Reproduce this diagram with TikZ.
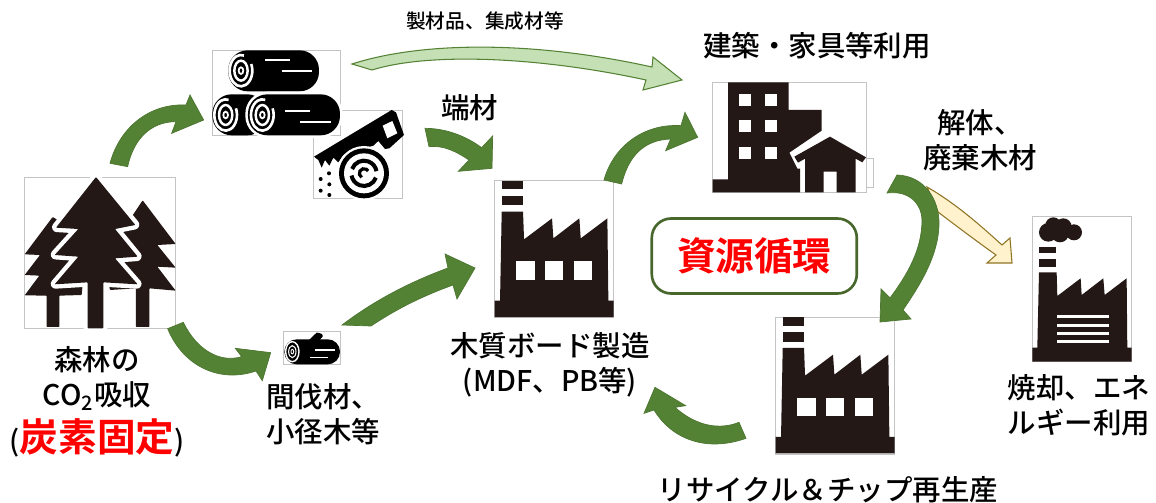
\documentclass[tikz,border=0pt]{standalone}
\usepackage{fontspec}
\setmainfont{Noto Sans CJK JP Medium}[BoldFont={Noto Sans CJK JP Bold}]
\tikzset{
  x=0.02cm,y=-0.02cm,
  crop/.style 2 args={shift={(#1,#2)},x=0.006667cm,y=-0.006667cm},
  iconbox/.style 2 args={draw=framegray,line width=.5pt,fill=white,inner sep=0pt,minimum width=#1*0.02cm,minimum height=#2*0.02cm},
  label/.style={font=\fontsize{16.2}{20}\selectfont,align=center,inner sep=0pt,text=black},
  greenarrow/.style={fill=arrowgreen,draw=arrowedge,line width=.4pt,line join=miter},
  palearrow/.style={fill=palegreen,draw=arrowgreen,line width=.6pt},
  creamarrow/.style={fill=cream,draw=creamedge,line width=.6pt},
  factory/.pic={
    \begin{scope}[x=0.006667cm,y=-0.006667cm]
    \fill[ink] (22,0) rectangle (84,26);
    \fill[ink] (21,45) rectangle (85,74);
    \fill[ink] (21,93) -- (85,93) -- (88,176) -- (172,113) -- (176,173) -- (254,113) -- (258,173) -- (338,113)
      -- (341,360) -- (357,360) -- (357,409) -- (0,409) -- (0,360) -- (16,360) -- cycle;
    \foreach \wx in {65,151,237}
      \fill[white] (\wx,242) rectangle ++(55,55);
    \end{scope}
  },
}
\definecolor{ink}{HTML}{231815}
\definecolor{framegray}{HTML}{C4C4C4}
\definecolor{arrowgreen}{HTML}{548235}
\definecolor{arrowedge}{HTML}{4C7530}
\definecolor{palegreen}{HTML}{C5E0B4}
\definecolor{cream}{HTML}{FFF2CC}
\definecolor{creamedge}{HTML}{8F7423}
\definecolor{boxgreen}{HTML}{47672C}
\begin{document}
\begin{tikzpicture}
\useasboundingbox (0,0) rectangle (1156,503);
% icon frames
\node[iconbox={151.4}{151}] (forest) at (100,252.5) {};
\node[iconbox={89.4}{88}] (saw) at (358,154.3) {};
\node[iconbox={127.7}{85}] (logs) at (276.2,92.8) {};
\node[iconbox={56.6}{33}] (thinning) at (312,347.8) {};
\node[iconbox={119}{136.3}] (board) at (554.2,248.9) {};
\draw[framegray,line width=.5pt] (866.3,158.3) -- (873.7,158.3) -- (873.7,187.3) -- (866.3,187.3);
\node[iconbox={153.6}{110}] (building) at (789.5,137.3) {};
\node[iconbox={119}{137.7}] (recycle) at (835.2,385.9) {};
\node[iconbox={99.4}{145.4}] (burner) at (1082,289) {};
% trees
\begin{scope}[crop={20}{175},rounded corners=.4pt]
\fill[ink] (98,126) -- (14,238) -- (60,240) -- (14,300) -- (58,302) -- (14,361) -- (80,362) -- (80,456)
  -- (118,456) -- (118,362) -- (185,360) -- (200,200) -- (108,132) -- cycle;
\fill[ink] (368,76) -- (467,207) -- (412,210) -- (467,278) -- (412,275) -- (467,347) -- (388,340) -- (388,456)
  -- (348,456) -- (348,340) -- (270,345) -- (240,200) -- (336,124) -- cycle;
\fill[ink,preaction={draw=white,line width=5pt,line join=round}]
  (228,6) -- (346,150) -- (285,162) -- (353,245) -- (285,250) -- (353,328) -- (250,322) -- (250,460) -- (203,460)
  -- (203,322) -- (104,328) -- (175,245) -- (104,240) -- (175,162) -- (108,158) -- cycle;
\end{scope}
% saw
\begin{scope}[crop={310}{105}]
\fill[black] (12,155) -- (245,15) -- (258,22) -- (282,90) -- (238,130) -- (225,132) -- (205,108) -- (190,122) -- (100,150)
  -- (85,172) -- (70,158) -- (58,182) -- (45,165) -- (35,188) -- (25,165) -- cycle;
\fill[white] (218,62) -- (247,48) -- (262,85) -- (232,100) -- cycle;
\fill[white] (162,205) circle[radius=82];
\fill[black] (162,205) circle[radius=75];
\fill[white] (162,205) circle[radius=60];
\draw[black,line width=2.3pt] (162,205) ++(20:38) arc[start angle=20,end angle=170,radius=38];
\draw[black,line width=2.3pt] (162,205) ++(200:38) arc[start angle=200,end angle=350,radius=38];
\draw[black,line width=1.8pt] (162,205) ++(120:14) arc[start angle=120,end angle=330,radius=14];
\foreach \dx/\dy in {57/205,32/222,58/238,32/257,58/270}
  \fill[black] (\dx,\dy) circle[radius=6];
\end{scope}
% logs
\begin{scope}[crop={0}{0}]
\fill[black,rounded corners=11pt] (685,151) rectangle (957,274);
\fill[black,rounded corners=11pt] (637,283) rectangle (800,406);
\fill[black,rounded corners=11pt,preaction={draw=white,line width=3pt}] (744,283) rectangle (1020,406);
\foreach \lx/\ly in {723/212,677/345,787/345} {
  \draw[white,line width=1.5pt] (\lx,\ly) ++(-25:34 and 47) arc[start angle=-25,end angle=285,x radius=34,y radius=47];
  \draw[white,line width=1.4pt] (\lx,\ly) ellipse[x radius=20,y radius=30];
  \draw[white,line width=1pt] (\lx,\ly) ellipse[x radius=7,y radius=10];
}
\draw[white,line width=1.3pt] (795,180) -- (870,180);
\draw[white,line width=1.3pt] (845,212) -- (935,212);
\draw[white,line width=1.3pt] (855,332) -- (930,332);
\draw[white,line width=1.3pt] (900,367) -- (992,367);
\end{scope}
% small log
\begin{scope}[crop={0}{170}]
\fill[black] (925,512) -- (950,488) to[out=0,in=60] (968,500) -- (950,520) -- cycle;
\fill[black,rounded corners=7pt] (853,508) rectangle (1020,583);
\draw[white,line width=.8pt] (877,545) ellipse[x radius=20,y radius=30];
\draw[white,line width=.6pt] (877,545) ellipse[x radius=11,y radius=18];
\draw[white,line width=.5pt] (877,545) ellipse[x radius=4,y radius=7];
\draw[white,line width=.8pt] (945,540) -- (1005,540);
\draw[white,line width=.8pt] (930,563) -- (985,563);
\end{scope}
% building and house
\begin{scope}[crop={690}{60}]
\fill[ink] (114,67) -- (296,67) -- (296,150) -- (395,150) -- (395,212) -- (298,278) -- (322,326) -- (330,326) -- (330,397)
  -- (68,397) -- (68,358) -- (114,358) -- cycle;
\foreach \wy in {103,181,260} {
  \fill[white] (148,\wy) rectangle ++(36,36);
  \fill[white] (225,\wy) rectangle ++(36,36);
}
\fill[ink] (420,230) -- (528,292) -- (517,307) -- (497,296) -- (497,397) -- (440,397) -- (440,335) -- (401,335) -- (401,397)
  -- (345,397) -- (345,296) -- (324,308) -- (313,290) -- cycle;
\end{scope}
% factories
\pic at (494.7,180.7) {factory};
\pic at (775.7,317) {factory};
\begin{scope}[crop={640}{200}]
\foreach \sx/\sy/\sr in {1225/97/28,1240/76/24,1270/80/25,1260/100/27,1302/97/24}
  \fill[ink] (\sx,\sy) circle[radius=\sr];
\fill[ink] (1197,140) rectangle (1247,160);
\fill[ink] (1197,176) rectangle (1249,202);
\fill[ink] (1197,217) -- (1250,217) -- (1252,288) -- (1322,235) -- (1325,285) -- (1390,235) -- (1394,285) -- (1460,235)
  -- (1462,443) -- (1475,443) -- (1475,485) -- (1177,485) -- (1177,443) -- (1192,443) -- cycle;
\foreach \ly in {350,376,402,426}
  \fill[white] (1252,\ly-4.5) rectangle (1408,\ly+4.5);
\end{scope}
% arrows
\fill[palearrow] (352,64) .. controls (420,42) and (530,40) .. (652,67) -- (653,57) -- (682,80) -- (643,90) -- (646,80)
  .. controls (540,57) and (430,52) .. (372,70) -- cycle;
\fill[creamarrow] (927,187) .. controls (955,203) and (980,225) .. (1002,245) -- (1010,238) -- (1012,263) -- (987,263) -- (996,255)
  .. controls (975,240) and (955,225) .. (938,212) -- cycle;
\begin{scope}[crop={0}{0}]
\fill[greenarrow] (330,490) .. controls (360,380) and (450,310) .. (558,315) -- (570,285) -- (611,360) -- (515,400) -- (528,365)
  .. controls (450,365) and (400,420) .. (383,500) -- cycle;
\end{scope}
\begin{scope}[crop={0}{170}]
\fill[greenarrow] (550,457) .. controls (590,540) and (660,580) .. (725,560) -- (706,535) -- (812,548) -- (787,632) -- (768,603)
  .. controls (660,640) and (550,590) .. (503,476) -- cycle;
\end{scope}
\begin{scope}[crop={400}{0}]
\fill[greenarrow] (75,385) .. controls (140,385) and (200,410) .. (245,443) -- (278,408) -- (276,505) -- (175,514) -- (207,480)
  .. controls (170,455) and (130,435) .. (87,440) -- cycle;
\fill[greenarrow] (612,540) .. controls (640,440) and (730,370) .. (843,377) -- (855,337) -- (893,412) -- (797,452) -- (812,417)
  .. controls (730,420) and (685,470) .. (665,552) -- cycle;
\end{scope}
\fill[greenarrow] (342,325) .. controls (375,300) and (410,282) .. (448,268) -- (445,254) -- (475,268) -- (457,299) -- (453,285)
  .. controls (420,297) and (395,310) .. (371,326) -- cycle;
\fill[greenarrow] (897,175) .. controls (925,176) and (939,200) .. (939,223) .. controls (939,255) and (920,285) .. (903,310)
  -- (911,319) -- (880,322) -- (881,289) -- (890,298) .. controls (907,275) and (922,250) .. (922,220)
  .. controls (922,205) and (910,190) .. (887,193) -- cycle;
\begin{scope}[crop={640}{200}]
\fill[greenarrow] (297,667) .. controls (240,690) and (170,680) .. (105,622) -- (137,617) -- (45,562) -- (12,640) -- (42,630)
  .. controls (90,710) and (190,760) .. (318,715) -- cycle;
\end{scope}
% labels
\node[label,font=\fontsize{11.2}{14}\selectfont] (sawnlabel) at (485,21) {製材品、集成材等};
\node[label] (offcutlabel) at (469.5,108) {端材};
\node[label] (uselabel) at (817,46) {建築・家具等利用};
\node[label] (demolabel) at (980,140) {解体、\\廃棄木材};
\node[label] (forestlabel) at (97,378.5) {森林の\\CO\textsubscript{2}吸収};
\node[label] (fixlabel) at (97,438) {(\textcolor{red}{\fontsize{22}{26}\selectfont\bfseries 炭素固定})};
\node[label] (thinlabel) at (323,414) {間伐材、\\小径木等};
\node[label] (boardlabel) at (550,365) {木質ボード製造\\(MDF、PB等)};
\node[label] (recyclelabel) at (828,490) {リサイクル＆チップ再生産};
\node[label] (burnlabel) at (1079,405) {焼却、エネ\\ルギー利用};
\node[draw=boxgreen,line width=1.5pt,rounded corners=11pt,fill=white,minimum width=205*0.02cm,minimum height=75*0.02cm,
  inner sep=0pt,text=red,font=\fontsize{22}{26}\selectfont\bfseries] (cyclelabel) at (754.3,256) {資源循環};
\end{tikzpicture}
\end{document}
